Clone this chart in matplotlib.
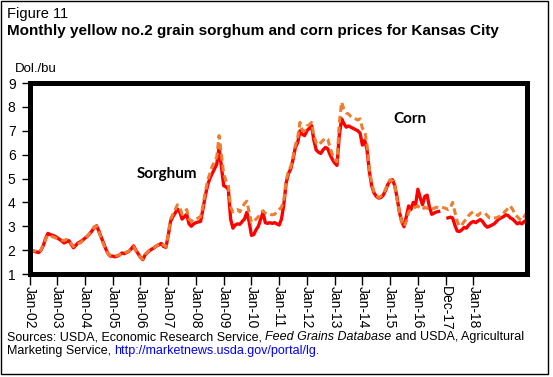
import numpy as np
import matplotlib
matplotlib.use('Agg')
import matplotlib.pyplot as plt
from matplotlib.patches import Rectangle

plt.rcParams['font.family'] = ['Liberation Sans', 'DejaVu Sans']

nan = np.nan

# monthly prices, dollars per bushel, Jan-02 .. Dec-19 (one row per year)
sorghum = [
    2.00, 1.98, 1.95, 1.92, 1.90, 2.00, 2.20, 2.50, 2.70, 2.65, 2.62, 2.58,
    2.52, 2.45, 2.38, 2.30, 2.35, 2.40, 2.25, 2.10, 2.20, 2.30, 2.35, 2.42,
    2.50, 2.58, 2.68, 2.80, 2.95, 3.02, 2.80, 2.55, 2.30, 2.05, 1.85, 1.75,
    1.75, 1.72, 1.75, 1.80, 1.88, 1.85, 1.90, 1.95, 2.05, 2.18, 2.00, 1.85,
    1.70, 1.60, 1.80, 1.90, 1.98, 2.05, 2.10, 2.18, 2.22, 2.28, 2.15, 2.12,
    2.60, 3.20, 3.40, 3.55, 3.72, 3.60, 3.30, 3.40, 3.50, 3.10, 3.00, 3.10,
    3.15, 3.18, 3.20, 3.70, 4.25, 4.70, 5.00, 5.20, 5.40, 5.60, 6.30, 5.50,
    4.70, 4.65, 4.55, 3.30, 2.92, 3.05, 3.10, 3.08, 3.20, 3.30, 3.58, 3.20,
    2.62, 2.65, 2.85, 3.00, 3.30, 3.58, 3.15, 3.12, 3.15, 3.12, 3.15, 3.10,
    3.05, 3.30, 3.90, 4.80, 5.20, 5.40, 5.80, 6.30, 6.50, 7.00, 6.85, 6.80,
    7.00, 7.10, 7.22, 6.60, 6.20, 6.10, 6.05, 6.20, 6.30, 6.25, 6.00, 5.80,
    5.65, 5.55, 6.80, 7.50, 7.30, 7.15, 7.20, 7.15, 7.10, 7.05, 7.00, 6.90,
    6.40, 6.60, 6.20, 5.30, 4.70, 4.40, 4.25, 4.18, 4.20, 4.30, 4.50, 4.75,
    4.90, 4.95, 4.70, 4.20, 3.60, 3.20, 2.98, 3.40, 3.85, 3.70, 4.00, 3.90,
    4.55, 4.20, 3.90, 4.25, 4.30, 3.80, 3.50, 3.55, 3.60, 3.62, nan, nan,
    nan, 3.35, 3.38, 3.35, 3.05, 2.80, 2.78, 2.85, 2.95, 2.92, 3.05, 3.15,
    3.20, 3.15, 3.22, 3.28, 3.20, 3.05, 2.96, 3.00, 3.05, 3.10, 3.20, 3.30,
    3.35, 3.40, 3.48, 3.45, 3.35, 3.30, 3.20, 3.10, 3.15, 3.10, 3.20, 3.25,
]

corn = [
    2.02, 2.00, 1.97, 1.94, 1.92, 2.02, 2.22, 2.48, 2.62, 2.58, 2.56, 2.52,
    2.48, 2.45, 2.42, 2.40, 2.45, 2.42, 2.28, 2.15, 2.25, 2.28, 2.30, 2.40,
    2.48, 2.58, 2.70, 2.82, 2.98, 3.00, 2.75, 2.50, 2.25, 2.02, 1.85, 1.78,
    1.78, 1.75, 1.78, 1.80, 1.88, 1.86, 1.92, 1.95, 2.05, 2.15, 1.98, 1.85,
    1.68, 1.62, 1.82, 1.92, 2.00, 2.05, 2.12, 2.18, 2.25, 2.30, 2.20, 2.15,
    2.65, 3.30, 3.50, 3.70, 3.90, 3.80, 3.50, 3.60, 3.70, 3.30, 3.20, 3.30,
    3.30, 3.35, 3.40, 3.85, 4.40, 4.90, 5.20, 5.50, 5.70, 5.90, 6.80, 6.00,
    5.20, 4.90, 4.70, 3.80, 3.60, 3.65, 3.70, 3.60, 3.80, 3.95, 4.05, 3.60,
    3.15, 3.20, 3.30, 3.40, 3.55, 3.65, 3.55, 3.50, 3.50, 3.48, 3.50, 3.60,
    3.70, 3.80, 4.10, 4.90, 5.30, 5.50, 5.90, 6.40, 6.70, 7.35, 7.00, 7.00,
    7.20, 7.25, 7.35, 6.80, 6.50, 6.40, 6.50, 6.60, 6.70, 6.65, 6.30, 6.00,
    5.80, 5.70, 7.30, 8.20, 7.90, 7.75, 7.70, 7.60, 7.55, 7.50, 7.45, 7.50,
    7.10, 7.00, 6.40, 5.40, 4.80, 4.45, 4.30, 4.20, 4.25, 4.35, 4.55, 4.80,
    4.95, 4.90, 4.70, 4.10, 3.60, 3.20, 3.00, 3.20, 3.60, 3.70, 3.75, 3.80,
    3.85, 3.75, 3.70, 3.80, 3.75, 3.70, 3.72, 3.75, 3.80, 3.78, 3.80, 3.78,
    3.75, 3.70, 3.75, 4.00, 3.60, 3.20, 3.00, 3.05, 3.20, 3.30, 3.45, 3.55,
    3.60, 3.50, 3.45, 3.55, 3.55, 3.55, 3.45, 3.35, 3.35, 3.35, 3.35, 3.40,
    3.45, 3.55, 3.65, 3.75, 3.85, 3.70, 3.50, 3.40, 3.30, 3.25, 3.40, 3.55,
]

tick_pos = list(range(0, 193, 12))
tick_labels = ['Jan-02', 'Jan-03', 'Jan-04', 'Jan-05', 'Jan-06', 'Jan-07',
               'Jan-08', 'Jan-09', 'Jan-10', 'Jan-11', 'Jan-12', 'Jan-13',
               'Jan-14', 'Jan-15', 'Jan-16', 'Dec-17', 'Jan-18']

W, H = 553, 377
fig = plt.figure(figsize=(W / 100, H / 100), dpi=100)
ax = fig.add_axes([29.5 / W, 1 - 274 / H, (527 - 29.5) / W, (274 - 83) / H])

months = np.arange(len(sorghum))
ax.plot(months, sorghum, color='#ff0000', lw=2.4, solid_joinstyle='round')
ax.plot(months, corn, color='#ed7d31', lw=2.2, dashes=(2.2, 1.3))

ax.set_xlim(0, 215.2)
ax.set_ylim(1, 9)
ax.set_yticks(range(1, 10))
ax.set_xticks(tick_pos)
ax.set_xticklabels(tick_labels, rotation=-90, fontsize=10)
ax.tick_params(axis='y', labelsize=10, length=6, width=1, pad=4)
ax.tick_params(axis='x', length=8, width=1, pad=1)
for s in ax.spines.values():
    s.set_linewidth(3.6)

ax.text(59.3, 5.2, 'Sorghum', fontsize=11, fontweight='bold',
        family=['Lato', 'DejaVu Sans'], ha='center', va='center')
ax.text(164.6, 7.5, 'Corn', fontsize=11, fontweight='bold',
        family=['Lato', 'DejaVu Sans'], ha='center', va='center')

fig.text(7 / W, 1 - 18 / H, 'Figure 11', fontsize=10.5)
fig.text(7 / W, 1 - 35 / H,
         'Monthly yellow no.2 grain sorghum and corn prices for Kansas City',
         fontsize=11, fontweight='bold')
fig.text(15 / W, 1 - 72 / H, 'Dol./bu', fontsize=9.5)

# source note, built piece by piece
t = fig.text(7 / W, 1 - 340 / H, 'Sources: USDA, Economic Research Service, ',
             fontsize=9)
t = ax.annotate('Feed Grains Database', xy=(1, 0), xycoords=t, fontsize=9,
                style='italic', va='bottom', ha='left', annotation_clip=False)
ax.annotate(' and USDA, Agricultural', xy=(1, 0), xycoords=t, fontsize=9,
            va='bottom', ha='left', annotation_clip=False)
t = fig.text(7 / W, 1 - 354 / H, 'Marketing Service, ', fontsize=9)
ax.annotate('http://marketnews.usda.gov/portal/lg.', xy=(1, 0), xycoords=t,
            fontsize=9, color='#0000ff', va='bottom', ha='left',
            annotation_clip=False)

fig.patches.append(Rectangle((1 / W, 3 / H), 547 / W, 373 / H,
                             transform=fig.transFigure, fill=False,
                             lw=1, ec='black'))

fig.savefig('out.png', dpi=100)
